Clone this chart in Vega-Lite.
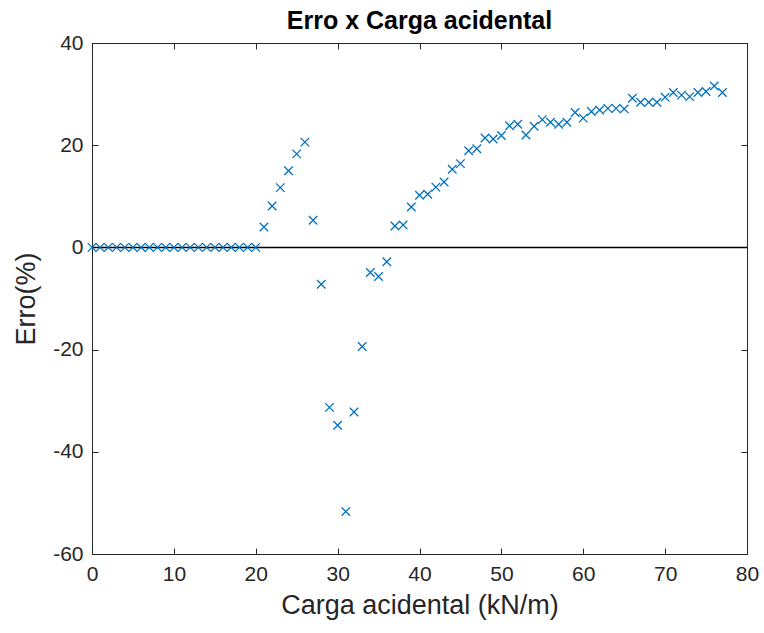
{
  "$schema": "https://vega.github.io/schema/vega-lite/v6.json",
  "autosize": {"type": "none"},
  "width": 655,
  "height": 511,
  "padding": {"left": 92, "top": 43, "right": 17, "bottom": 79},
  "background": "white",
  "title": {
    "text": "Erro x Carga acidental",
    "font": "Liberation Sans",
    "fontSize": 25,
    "fontWeight": "bold",
    "color": "#000000",
    "anchor": "middle",
    "offset": -2
  },
  "config": {
    "view": {"stroke": null},
    "axis": {
      "labelFont": "Liberation Sans",
      "titleFont": "Liberation Sans",
      "labelFontSize": 21,
      "titleFontSize": 27,
      "titleFontWeight": "normal",
      "labelColor": "#262626",
      "titleColor": "#262626",
      "domainColor": "#262626",
      "tickColor": "#262626",
      "domainWidth": 1,
      "tickWidth": 1,
      "grid": false,
      "labelFlush": false,
      "labelOverlap": false,
      "labelExpr": "'' + datum.value"
    }
  },
  "data": {
    "values": [
      {"x": 0, "y": 0}, {"x": 1, "y": 0}, {"x": 2, "y": 0}, {"x": 3, "y": 0}, {"x": 4, "y": 0},
      {"x": 5, "y": 0}, {"x": 6, "y": 0}, {"x": 7, "y": 0}, {"x": 8, "y": 0}, {"x": 9, "y": 0},
      {"x": 10, "y": 0}, {"x": 11, "y": 0}, {"x": 12, "y": 0}, {"x": 13, "y": 0}, {"x": 14, "y": 0},
      {"x": 15, "y": 0}, {"x": 16, "y": 0}, {"x": 17, "y": 0}, {"x": 18, "y": 0}, {"x": 19, "y": 0},
      {"x": 20, "y": 0},
      {"x": 21, "y": 4.0}, {"x": 22, "y": 8.1}, {"x": 23, "y": 11.7}, {"x": 24, "y": 15.0},
      {"x": 25, "y": 18.3}, {"x": 26, "y": 20.6}, {"x": 27, "y": 5.3}, {"x": 28, "y": -7.2},
      {"x": 29, "y": -31.3}, {"x": 30, "y": -34.8}, {"x": 31, "y": -51.7}, {"x": 32, "y": -32.2},
      {"x": 33, "y": -19.4}, {"x": 34, "y": -4.9}, {"x": 35, "y": -5.7}, {"x": 36, "y": -2.8},
      {"x": 37, "y": 4.2}, {"x": 38, "y": 4.4}, {"x": 39, "y": 7.9}, {"x": 40, "y": 10.2},
      {"x": 41, "y": 10.4}, {"x": 42, "y": 11.8}, {"x": 43, "y": 12.8}, {"x": 44, "y": 15.3},
      {"x": 45, "y": 16.4}, {"x": 46, "y": 18.9}, {"x": 47, "y": 19.3}, {"x": 48, "y": 21.4},
      {"x": 49, "y": 21.2}, {"x": 50, "y": 21.9}, {"x": 51, "y": 23.8}, {"x": 52, "y": 24.1},
      {"x": 53, "y": 22.0}, {"x": 54, "y": 23.7}, {"x": 55, "y": 25.0}, {"x": 56, "y": 24.5},
      {"x": 57, "y": 24.1}, {"x": 58, "y": 24.5}, {"x": 59, "y": 26.4}, {"x": 60, "y": 25.3},
      {"x": 61, "y": 26.6}, {"x": 62, "y": 26.9}, {"x": 63, "y": 27.2}, {"x": 64, "y": 27.2},
      {"x": 65, "y": 27.1}, {"x": 66, "y": 29.2}, {"x": 67, "y": 28.4}, {"x": 68, "y": 28.4},
      {"x": 69, "y": 28.4}, {"x": 70, "y": 29.4}, {"x": 71, "y": 30.3}, {"x": 72, "y": 29.8},
      {"x": 73, "y": 29.5}, {"x": 74, "y": 30.3}, {"x": 75, "y": 30.5}, {"x": 76, "y": 31.6},
      {"x": 77, "y": 30.3}
    ]
  },
  "layer": [
    {
      "data": {"values": [{"z": 0}]},
      "mark": {"type": "rule", "color": "#000000", "strokeWidth": 1.5},
      "encoding": {
        "y": {
          "field": "z", "type": "quantitative",
          "scale": {"domain": [-60, 40], "nice": false},
          "axis": {"orient": "right", "labels": false, "title": null, "tickSize": -6, "values": [-60, -40, -20, 0, 20, 40]}
        }
      }
    },
    {
      "mark": {"type": "point", "shape": "M-1,-1L1,1M1,-1L-1,1", "filled": false, "color": "#0072BD", "strokeWidth": 1.3, "size": 72, "opacity": 1},
      "encoding": {
        "x": {
          "field": "x", "type": "quantitative",
          "scale": {"domain": [0, 80], "nice": false},
          "axis": {"orient": "bottom", "title": "Carga acidental (kN/m)", "tickSize": -6, "labelPadding": 15, "titlePadding": 8, "values": [0, 10, 20, 30, 40, 50, 60, 70, 80]}
        },
        "y": {
          "field": "y", "type": "quantitative",
          "scale": {"domain": [-60, 40], "nice": false},
          "axis": {"orient": "left", "title": "Erro(%)", "tickSize": -6, "labelPadding": 15, "titlePadding": 12, "values": [-60, -40, -20, 0, 20, 40]}
        }
      }
    },
    {
      "mark": {"type": "point", "opacity": 0},
      "encoding": {
        "x": {
          "field": "x", "type": "quantitative",
          "scale": {"domain": [0, 80], "nice": false},
          "axis": {"orient": "top", "labels": false, "title": null, "tickSize": -6, "values": [0, 10, 20, 30, 40, 50, 60, 70, 80]}
        },
        "y": {
          "field": "y", "type": "quantitative",
          "scale": {"domain": [-60, 40], "nice": false},
          "axis": null
        }
      }
    }
  ],
  "resolve": {"axis": {"x": "independent", "y": "independent"}}
}
